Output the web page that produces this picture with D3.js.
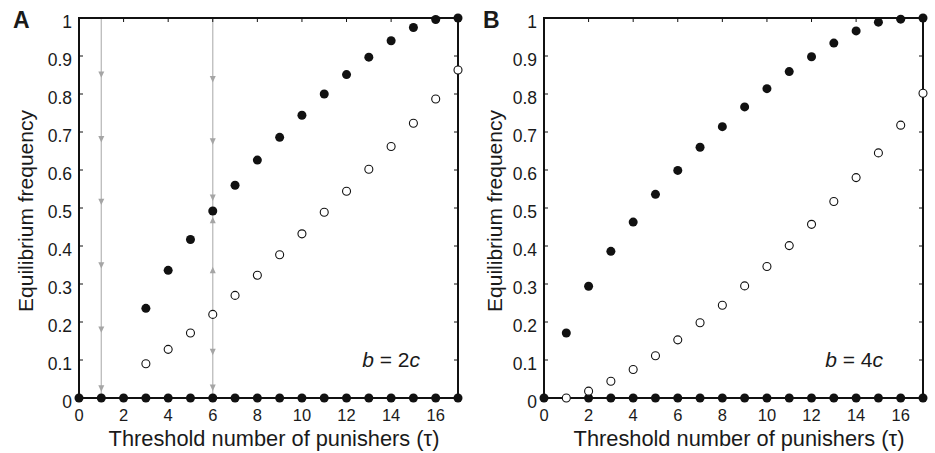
<!DOCTYPE html>
<html><head><meta charset="utf-8">
<script src="https://cdn.jsdelivr.net/npm/d3@7/dist/d3.min.js"></script>
<style>body{margin:0;background:#fff}svg{display:block;font-family:"Liberation Sans",Arial,sans-serif}</style>
</head><body>
<svg id="c" width="935" height="453"></svg>
<script>
const tau = d3.range(0, 18);
const xTicks = [0,2,4,6,8,10,12,14,16];
const yTicks = [0,0.1,0.2,0.3,0.4,0.5,0.6,0.7,0.8,0.9,1];
const yTickLabels = ["0","0.1","0.2","0.3","0.4","0.5","0.6","0.7","0.8","0.9","1"];

// Panel A (b = 2c)
const aStableTau = [3,4,5,6,7,8,9,10,11,12,13,14,15,16,17];
const aStable = [0.236,0.336,0.417,0.492,0.560,0.626,0.686,0.744,0.800,0.851,0.897,0.940,0.975,0.996,1.0];
const aUnstableTau = [3,4,5,6,7,8,9,10,11,12,13,14,15,16,17];
const aUnstable = [0.090,0.128,0.171,0.220,0.270,0.323,0.377,0.432,0.489,0.544,0.602,0.662,0.723,0.787,0.863];
const aZeroTau = [0,1,2,3,4,5,6,7,8,9,10,11,12,13,14,15,16,17];
const aArrowTau = [1,1,1,1,1,1,6,6,6,6,6,6,6];
const aArrowY   = [0.851,0.681,0.516,0.349,0.180,0.025,0.839,0.675,0.527,0.468,0.337,0.121,0.027];
const aArrowDir = [-1,-1,-1,-1,-1,-1,-1,-1,-1,1,1,-1,-1];
const aLineTau = [1,6];

// Panel B (b = 4c)
const bStableTau = [1,2,3,4,5,6,7,8,9,10,11,12,13,14,15,16,17];
const bStable = [0.171,0.294,0.386,0.463,0.536,0.599,0.660,0.714,0.766,0.814,0.859,0.898,0.934,0.966,0.989,0.997,1.0];
const bUnstableTau = [1,2,3,4,5,6,7,8,9,10,11,12,13,14,15,16,17];
const bUnstable = [0.0,0.018,0.044,0.075,0.111,0.153,0.198,0.244,0.295,0.346,0.401,0.457,0.517,0.580,0.645,0.718,0.802];
const bZeroTau = [0,2,3,4,5,6,7,8,9,10,11,12,13,14,15,16,17];

const svg = d3.select("#c");
const txt = "#1a1a1a";

function panel(o){
  const x = d3.scaleLinear().domain([0,17]).range([o.x0, o.x1]);
  const y = d3.scaleLinear().domain([0,1]).range([398, 18]);
  const g = svg.append("g");
  // arrows
  if (o.lines){
    o.lines.forEach(t=>{
      g.append("line").attr("x1",x(t)).attr("x2",x(t)).attr("y1",y(1)).attr("y2",y(0))
        .attr("stroke","#bbbbbb").attr("stroke-width",1.3);
    });
    o.arrowTau.forEach((t,i)=>{
      const cx = x(t), cy = y(o.arrowY[i]), d = o.arrowDir[i];
      const tipY = cy + (d<0 ? 3.2 : -3.2), baseY = cy + (d<0 ? -3.2 : 3.2);
      g.append("path").attr("d",`M${cx-3},${baseY}L${cx+3},${baseY}L${cx},${tipY}Z`).attr("fill","#a5a5a5");
    });
  }
  // frame
  g.append("rect").attr("x",o.x0).attr("y",y(1)).attr("width",o.x1-o.x0).attr("height",y(0)-y(1))
    .attr("fill","none").attr("stroke","#111").attr("stroke-width",2);
  // ticks inward
  xTicks.forEach(t=>{
    g.append("line").attr("x1",x(t)).attr("x2",x(t)).attr("y1",y(1)).attr("y2",y(1)+4).attr("stroke","#111").attr("stroke-width",1);
  });
  yTicks.forEach(t=>{
    g.append("line").attr("x1",o.x0).attr("x2",o.x0+4).attr("y1",y(t)).attr("y2",y(t)).attr("stroke","#111").attr("stroke-width",1);
    g.append("line").attr("x1",o.x1).attr("x2",o.x1-4).attr("y1",y(t)).attr("y2",y(t)).attr("stroke","#111").attr("stroke-width",1);
  });
  // tick labels
  g.selectAll(".xt").data(xTicks).enter().append("text").attr("x",d=>x(d)).attr("y",421)
    .attr("text-anchor","middle").attr("font-size",16.5).attr("fill",txt).text(d=>d);
  g.selectAll(".yt").data(yTicks).enter().append("text").attr("x",o.x0-7).attr("y",d=>y(d)+9.8)
    .attr("text-anchor","end").attr("font-size",17.5).attr("fill",txt).text((d,i)=>yTickLabels[i]);
  // axis titles
  g.append("text").attr("x",(o.x0+o.x1)/2+5.5).attr("y",446).attr("text-anchor","middle")
    .attr("font-size",21.8).attr("fill",txt).text("Threshold number of punishers (τ)");
  g.append("text").attr("transform",`translate(${o.x0-o.ytOff},211) rotate(-90)`).attr("text-anchor","middle")
    .attr("font-size",21).attr("fill",txt).text("Equilibrium frequency");
  // panel label
  g.append("text").attr("x",o.x0-o.labOff).attr("y",27.5).attr("font-size",23).attr("font-weight","bold").attr("fill",txt).text(o.label);
  // annotation
  const an = g.append("text").attr("x",o.x1-o.anOff).attr("y",367).attr("text-anchor","end").attr("font-size",21).attr("fill",txt);
  an.append("tspan").attr("font-style","italic").text("b");
  an.append("tspan").text(" = " + o.k);
  an.append("tspan").attr("font-style","italic").text("c");
  // zero points
  g.selectAll(".z").data(o.zeroTau).enter().append("circle").attr("cx",d=>x(d)).attr("cy",y(0)).attr("r",4.5).attr("fill","#111");
  // unstable
  g.selectAll(".u").data(o.uTau).enter().append("circle").attr("cx",d=>x(d)).attr("cy",(d,i)=>y(o.u[i])).attr("r",4)
    .attr("fill","#fff").attr("stroke","#111").attr("stroke-width",1.1);
  // stable
  g.selectAll(".s").data(o.sTau).enter().append("circle").attr("cx",d=>x(d)).attr("cy",(d,i)=>y(o.s[i])).attr("r",4.5).attr("fill","#111");
}

panel({x0:79,x1:458,label:"A",k:"2",ytOff:46.5,labOff:66,anOff:38,zeroTau:aZeroTau,sTau:aStableTau,s:aStable,uTau:aUnstableTau,u:aUnstable,
  lines:aLineTau,arrowTau:aArrowTau,arrowY:aArrowY,arrowDir:aArrowDir});
panel({x0:544,x1:923,label:"B",k:"4",ytOff:42,labOff:61,anOff:40,zeroTau:bZeroTau,sTau:bStableTau,s:bStable,uTau:bUnstableTau,u:bUnstable});
</script>
</body></html>
